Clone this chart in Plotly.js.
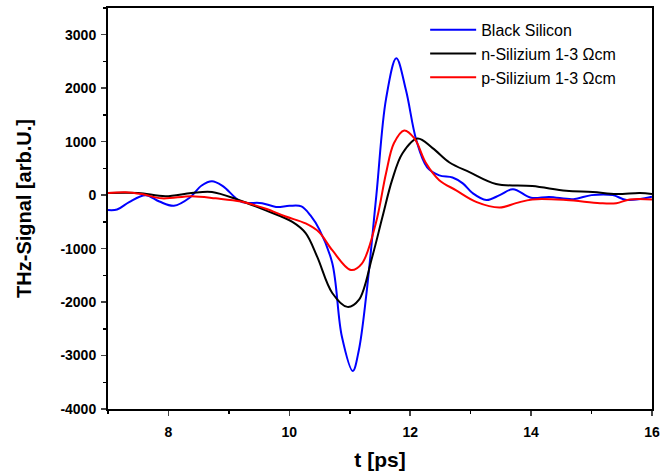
<!DOCTYPE html>
<html>
<head>
<meta charset="utf-8">
<script src="https://cdn.plot.ly/plotly-3.0.1.min.js"></script>
<style>html,body{margin:0;padding:0;background:#fff;}#chart{width:660px;height:475px;}</style>
</head>
<body>
<div id="chart"></div>
<script>
// Black Silicon
const tBlack = [7.0, 7.15, 7.35, 7.62, 7.85, 8.09, 8.35, 8.55, 8.72, 8.9, 9.2, 9.55, 9.78, 10.0, 10.2, 10.35, 10.5, 10.71, 10.87, 11.05, 11.15, 11.27, 11.44, 11.6, 11.77, 11.93, 12.1, 12.28, 12.48, 12.7, 12.87, 13.03, 13.26, 13.48, 13.7, 14.0, 14.3, 14.7, 15.0, 15.35, 15.58, 16.0];
const vBlack = [-280, -270, -130, 0, -120, -200, -50, 180, 260, 170, -120, -150, -220, -200, -210, -380, -650, -1270, -2650, -3290, -2900, -1900, 0, 1800, 2560, 1960, 1030, 520, 370, 330, 220, 40, -90, 0, 110, -50, -35, -75, 0, 0, -90, -30];
// n-Silizium
const tN = [7.0, 7.5, 7.95, 8.38, 8.72, 9.16, 9.6, 10.05, 10.27, 10.46, 10.71, 10.96, 11.15, 11.37, 11.54, 11.7, 11.87, 12.12, 12.37, 12.65, 12.98, 13.42, 14.02, 14.58, 15.02, 15.41, 15.8, 16.0];
const vN = [40, 40, -20, 40, 60, -90, -280, -500, -710, -1150, -1830, -2090, -1960, -1160, -410, 280, 780, 1060, 880, 610, 430, 210, 170, 80, 60, 20, 40, 20];
// p-Silizium
const tP = [7.0, 7.29, 7.56, 7.89, 8.38, 8.78, 9.2, 9.6, 9.94, 10.27, 10.49, 10.71, 11.02, 11.2, 11.43, 11.6, 11.73, 11.9, 12.07, 12.26, 12.48, 12.76, 13.1, 13.48, 13.75, 14.02, 14.58, 15.14, 15.41, 15.63, 16.0];
const vP = [40, 55, 20, -60, -20, -60, -120, -250, -400, -530, -690, -1030, -1400, -1280, -530, 410, 970, 1210, 1060, 600, 280, 90, -130, -230, -150, -80, -90, -150, -150, -80, -80];

const names = ['Black Silicon', 'n-Silizium 1-3 Ωcm', 'p-Silizium 1-3 Ωcm'];
const colors = ['#0000ff', '#000000', '#ff0000'];

const yTickVals = [-4000, -3000, -2000, -1000, 0, 1000, 2000, 3000];
const yTickText = ['-4000', '-3000', '-2000', '-1000', '0', '1000', '2000', '3000'];
const xTickVals = [8, 10, 12, 14, 16];
const xTickText = ['8', '10', '12', '14', '16'];

const series = [[tBlack, vBlack], [tN, vN], [tP, vP]];
const data = series.map((s, i) => ({
  x: s[0], y: s[1], name: names[i], type: 'scatter', mode: 'lines',
  line: {color: colors[i], width: 2, shape: 'spline', smoothing: 1}
}));

const fam = '"Liberation Sans", Arial, sans-serif';
const layout = {
  width: 660, height: 475,
  margin: {l: 108, r: 8, t: 8, b: 66},
  paper_bgcolor: '#fff', plot_bgcolor: '#fff',
  showlegend: true,
  legend: {x: 0.583, y: 0.988, xanchor: 'left', yanchor: 'top', bgcolor: 'rgba(0,0,0,0)',
           itemwidth: 46,
           font: {family: fam, size: 16, color: '#000'}, tracegroupgap: 0},
  xaxis: {
    range: [7, 16], tickmode: 'array', tickvals: xTickVals, ticktext: xTickText,
    ticks: 'outside', ticklen: 5, tickwidth: 1.5, ticklabelstandoff: 4,
    showline: true, linewidth: 2, linecolor: '#000', mirror: true, showgrid: false, zeroline: false,
    tickfont: {family: fam, size: 14, weight: 700, color: '#000'},
    minor: {tick0: 7, dtick: 1, ticks: 'outside', ticklen: 3, tickwidth: 1.5, tickcolor: '#000', showgrid: false},
    title: {text: 't [ps]', font: {family: fam, size: 21, weight: 700, color: '#000'}, standoff: 14}
  },
  yaxis: {
    range: [-4000, 3500], tickmode: 'array', tickvals: yTickVals, ticktext: yTickText,
    ticks: 'outside', ticklen: 5, tickwidth: 1.5, ticklabelstandoff: 2,
    showline: true, linewidth: 2, linecolor: '#000', mirror: true, showgrid: false, zeroline: false,
    tickfont: {family: fam, size: 14, weight: 700, color: '#000'},
    minor: {tick0: 0, dtick: 500, ticks: 'outside', ticklen: 3, tickwidth: 1.5, tickcolor: '#000', showgrid: false},
    title: {text: 'THz-Signal [arb.U.]', font: {family: fam, size: 20, weight: 700, color: '#000'}, standoff: 23}
  }
};

Plotly.newPlot('chart', data, layout, {staticPlot: true, displayModeBar: false});
</script>
</body>
</html>
